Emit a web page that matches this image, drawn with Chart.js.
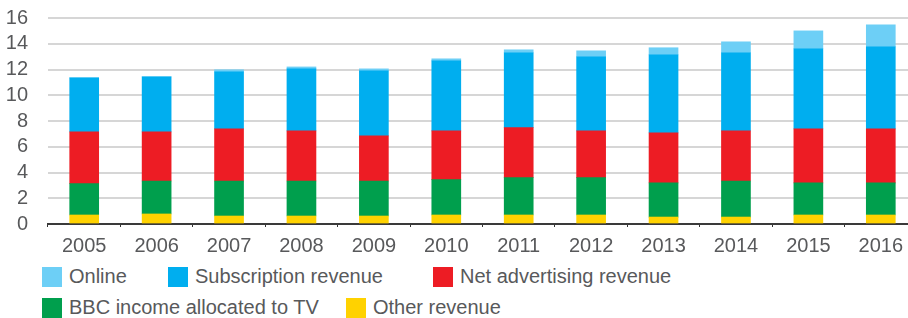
<!DOCTYPE html>
<html>
<head>
<meta charset="utf-8">
<script src="https://cdn.jsdelivr.net/npm/chart.js@4/dist/chart.umd.min.js"></script>
<style>
  html, body { margin: 0; padding: 0; background: #fff; overflow: hidden; }
  body { width: 908px; height: 318px; position: relative; font-family: "Liberation Sans", Arial, sans-serif; }
  #wrap { position: absolute; left: 0; top: -14px; width: 917px; height: 274px; }
  .item { position: absolute; height: 20px; line-height: 20px; font-size: 20px; color: #58595b; white-space: nowrap; }
  .item span { position: absolute; left: 0; top: 0; width: 20px; height: 20px; }
  .item b { font-weight: normal; position: absolute; left: 27px; top: -1px; }
</style>
</head>
<body>
<div id="wrap"><canvas id="chart"></canvas></div>
<div id="legend"></div>
<script>
// -------------------- DATA --------------------
const years = ["2005", "2006", "2007", "2008", "2009", "2010", "2011", "2012", "2013", "2014", "2015", "2016"];

const otherRevenue = [0.70, 0.78, 0.62, 0.62, 0.62, 0.70, 0.70, 0.70, 0.54, 0.54, 0.70, 0.70];
const bbcIncome = [2.43, 2.56, 2.72, 2.72, 2.72, 2.75, 2.90, 2.90, 2.65, 2.80, 2.49, 2.49];
const netAdvertising = [4.02, 3.81, 4.05, 3.89, 3.50, 3.78, 3.89, 3.63, 3.89, 3.89, 4.20, 4.20];
const subscription = [4.20, 4.28, 4.43, 4.82, 5.06, 5.44, 5.81, 5.76, 6.06, 6.07, 6.22, 6.37];
const online = [0, 0, 0.16, 0.15, 0.15, 0.16, 0.23, 0.46, 0.55, 0.85, 1.39, 1.71];

const yTicks = [0, 2, 4, 6, 8, 10, 12, 14, 16];

// -------------------- CHART SETUP --------------------
const textColor = "#58595b";
const font = { family: "'Liberation Sans', Arial, sans-serif", size: 20 };

// bottom of the stack first
const series = [
  { label: "Other revenue", data: otherRevenue, color: "#ffd200" },
  { label: "BBC income allocated to TV", data: bbcIncome, color: "#009f4d" },
  { label: "Net advertising revenue", data: netAdvertising, color: "#ed1c24" },
  { label: "Subscription revenue", data: subscription, color: "#00aeef" },
  { label: "Online", data: online, color: "#6dcff6" }
];

const ctx = document.getElementById("chart").getContext("2d");

new Chart(ctx, {
  type: "bar",
  data: {
    labels: years,
    datasets: series.map(s => ({
      label: s.label,
      data: s.data,
      backgroundColor: s.color,
      borderWidth: 0,
      barThickness: 29
    }))
  },
  options: {
    responsive: true,
    maintainAspectRatio: false,
    animation: false,
    layout: { padding: { top: 4, left: 0, right: 0, bottom: 0 } },
    plugins: {
      legend: { display: false },
      tooltip: { enabled: false }
    },
    scales: {
      x: {
        stacked: true,
        afterFit: (scale) => { scale.height = 36; },
        grid: {
          display: true,
          drawOnChartArea: false,
          drawTicks: true,
          tickLength: 3,
          color: "#333",
          offset: true
        },
        border: { display: true, color: "#3a3a3a", width: 2 },
        ticks: { color: textColor, font: font, padding: 7, maxRotation: 0 }
      },
      y: {
        stacked: true,
        min: 0,
        max: 16,
        afterFit: (scale) => { scale.width = 48; },
        afterBuildTicks: (scale) => { scale.ticks = yTicks.map(v => ({ value: v })); },
        grid: { color: "#d6d6d6", lineWidth: 2, drawTicks: false },
        border: { display: false },
        ticks: { color: textColor, font: font, padding: 20, autoSkip: false }
      }
    }
  }
});

// -------------------- LEGEND --------------------
const legendOrder = ["Online", "Subscription revenue", "Net advertising revenue", "BBC income allocated to TV", "Other revenue"];
const legendSlots = [
  { left: 42, top: 267 }, { left: 168, top: 267 }, { left: 433, top: 267 },
  { left: 42, top: 298 }, { left: 346, top: 298 }
];

const legendEl = document.getElementById("legend");
legendOrder.forEach((name, i) => {
  const s = series.find(d => d.label === name);
  const item = document.createElement("div");
  item.className = "item";
  item.style.left = legendSlots[i].left + "px";
  item.style.top = legendSlots[i].top + "px";
  item.innerHTML = `<span style="background:${s.color}"></span><b>${s.label}</b>`;
  legendEl.appendChild(item);
});
</script>
</body>
</html>
